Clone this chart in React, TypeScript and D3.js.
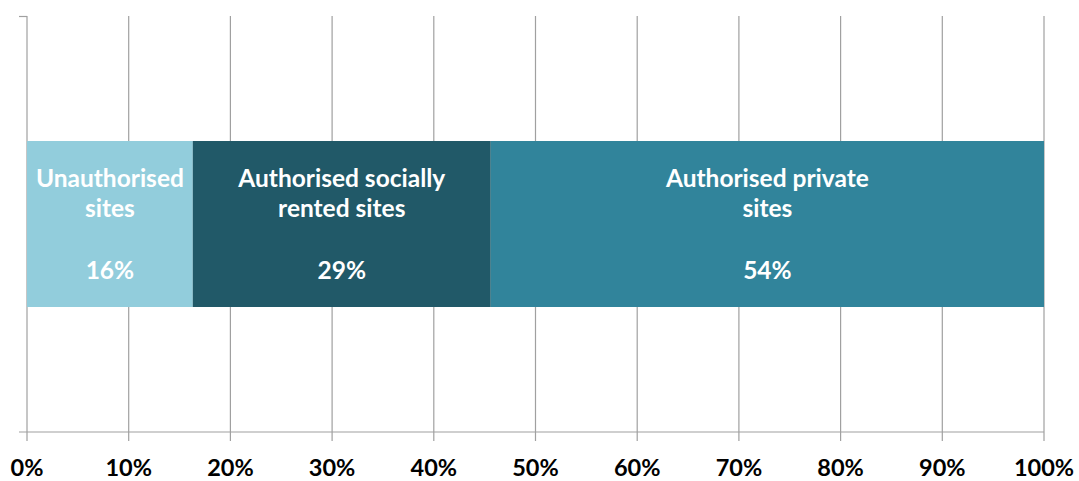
import React from "react";
import * as d3 from "d3";

const categories = ["Unauthorised sites", "Authorised socially rented sites", "Authorised private sites"];
const labelLines = [["Unauthorised", "sites"], ["Authorised socially", "rented sites"], ["Authorised private", "sites"]];
const values = [16.3, 29.3, 54.4];
const valueLabels = ["16%", "29%", "54%"];
const colors = ["#92CDDC", "#215968", "#31849B"];
const ticks = [0, 10, 20, 30, 40, 50, 60, 70, 80, 90, 100];

const W = 1079;
const H = 481;
const FONT = "Lato, 'Open Sans', sans-serif";

export default function App() {
  const x = d3.scaleLinear().domain([0, 100]).range([27, 1044]);
  const y = d3.scaleBand<string>().domain(["all"]).range([16, 432]).paddingInner(0).paddingOuter(0.753);
  const top = y("all") as number;
  const bw = y.bandwidth();
  const cum: number[] = [];
  values.reduce((acc, v) => { cum.push(acc); return acc + v; }, 0);
  const mid = top + bw / 2;
  const grid = "#A0A0A0";
  return (
    <svg width={W} height={H} style={{ position: "absolute", left: 0, top: 0, background: "#fff" }}>
      {ticks.map((t) => (
        <line key={"g" + t} x1={x(t)} x2={x(t)} y1={16} y2={441} stroke={grid} strokeWidth={1.2} />
      ))}
      <line x1={19} x2={x(0)} y1={16.5} y2={16.5} stroke={grid} strokeWidth={1.2} />
      <line x1={19} x2={x(100)} y1={432} y2={432} stroke={grid} strokeWidth={1.2} />
      {values.map((v, i) => (
        <rect key={"b" + i} x={x(cum[i])} y={top} width={x(cum[i] + v) - x(cum[i])} height={bw} fill={colors[i]} />
      ))}
      {values.map((v, i) => {
        const cx = (x(cum[i]) + x(cum[i] + v)) / 2;
        return (
          <text key={"l" + i} textAnchor="middle" fill="#fff" fontFamily={FONT} fontWeight={700} fontSize={24.5}>
            <tspan x={cx} y={mid - 37}>{labelLines[i][0]}</tspan>
            <tspan x={cx} y={mid - 7}>{labelLines[i][1]}</tspan>
            <tspan x={cx} y={mid + 55}>{valueLabels[i]}</tspan>
          </text>
        );
      })}
      {ticks.map((t) => (
        <text key={"t" + t} x={x(t)} y={476} textAnchor="middle" fill="#000" fontFamily={FONT} fontWeight={700} fontSize={23.5}>
          {t}%
        </text>
      ))}
    </svg>
  );
}
